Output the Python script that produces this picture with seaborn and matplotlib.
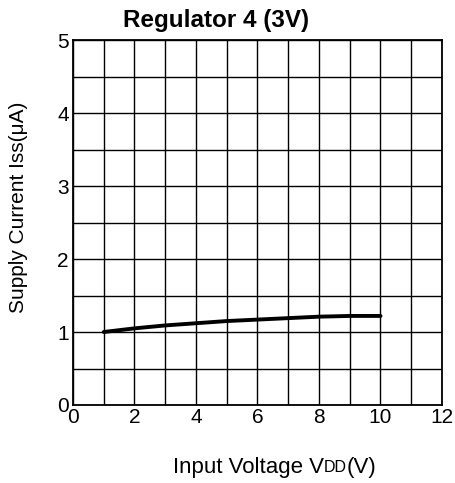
import numpy as np
import pandas as pd
import matplotlib
matplotlib.use("Agg")
import matplotlib.pyplot as plt
from matplotlib.ticker import MultipleLocator
from matplotlib.offsetbox import TextArea, HPacker, AnchoredOffsetbox
import seaborn as sns

# ── Data ───────────────────────────────────────────────────────────────────────
vdd = [1, 2, 3, 4, 5, 6, 7, 8, 9, 10]
iss = [1.00, 1.05, 1.09, 1.12, 1.15, 1.17, 1.19, 1.21, 1.22, 1.22]

x_ticks = [0, 2, 4, 6, 8, 10, 12]
y_ticks = [0, 1, 2, 3, 4, 5]

sns.set_style("white")
plt.rcParams["font.family"] = ["Liberation Sans", "DejaVu Sans"]
plt.rcParams["text.color"] = "black"

df = pd.DataFrame({"vdd": vdd, "iss": iss})

fig = plt.figure(figsize=(4.56, 4.83), dpi=100)
ax = fig.add_axes([73 / 456, 1 - 405 / 483, 369 / 456, 365 / 483])

sns.lineplot(data=df, x="vdd", y="iss", color="black", linewidth=2.8, ax=ax)

ax.set_xlim(0, 12)
ax.set_ylim(0, 5)
ax.set_xticks(x_ticks)
ax.set_yticks(y_ticks)
ax.xaxis.set_minor_locator(MultipleLocator(1))
ax.yaxis.set_minor_locator(MultipleLocator(0.5))
ax.grid(True, which="both", color="black", linewidth=1.0)
ax.tick_params(which="both", length=0, labelsize=15, colors="black")
ax.tick_params(axis="x", pad=2)
ax.tick_params(axis="y", pad=3)
for s in ax.spines.values():
    s.set_color("black")
    s.set_linewidth(1.3)
ax.set_xlabel("")
ax.set_ylabel("")

fig.text(19 / 456, 1 - 207 / 483, "Supply Current Iss(\u03bcA)", rotation=90,
         ha="center", va="center", fontsize=15, color="black")

fig.text(216 / 456, 1 - 27 / 483, "Regulator 4 (3V)", ha="center", va="baseline",
         fontsize=17.5, fontweight="bold", color="black")

# x label with small-caps style "DD"
parts = [TextArea("Input Voltage V", textprops=dict(fontsize=16, color="black")),
         TextArea("DD", textprops=dict(fontsize=11.5, color="black")),
         TextArea("(V)", textprops=dict(fontsize=16, color="black"))]
box = HPacker(children=parts, align="baseline", pad=0, sep=0)
anchored = AnchoredOffsetbox(loc="center", child=box, frameon=False, pad=0,
                             bbox_to_anchor=(275 / 456, 1 - 467 / 483),
                             bbox_transform=fig.transFigure, borderpad=0)
fig.add_artist(anchored)

fig.savefig("out.png", dpi=100)
plt.close(fig)
